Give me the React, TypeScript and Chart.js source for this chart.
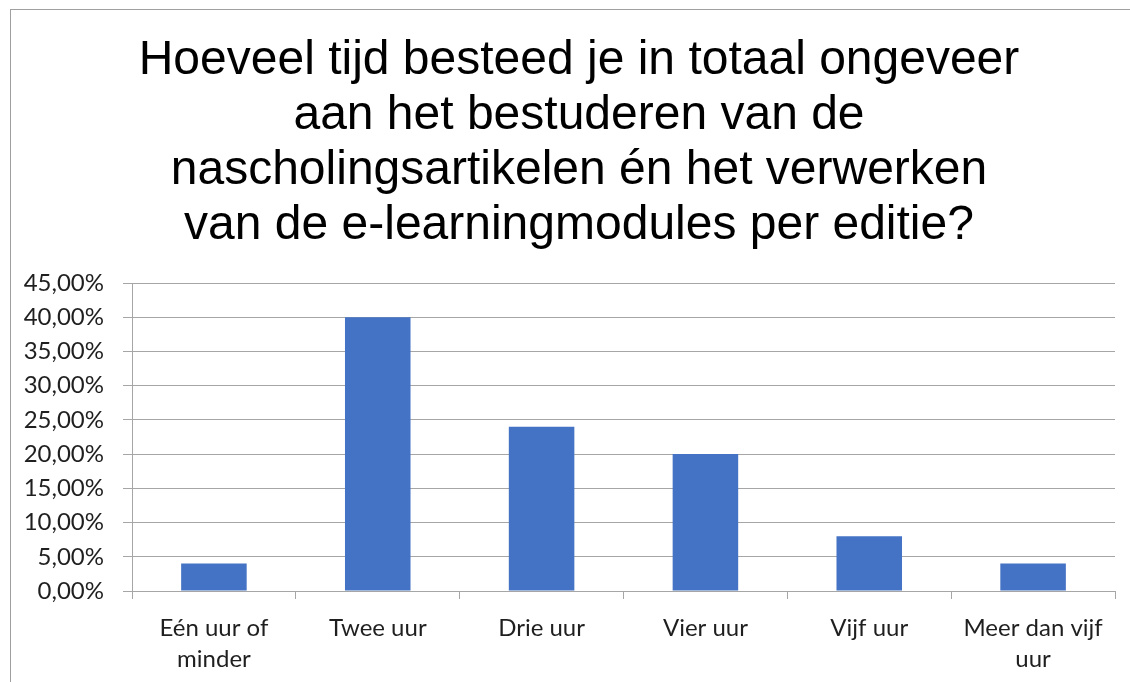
import React, { useEffect, useRef } from "react";
import { Chart, registerables } from "chart.js";

Chart.register(...registerables);

const titleLines = [
  "Hoeveel tijd besteed je in totaal ongeveer",
  "aan het bestuderen van de",
  "nascholingsartikelen én het verwerken",
  "van de e-learningmodules per editie?",
];

const categories: (string | string[])[] = [
  ["Eén uur of", "minder"],
  "Twee uur",
  "Drie uur",
  "Vier uur",
  "Vijf uur",
  ["Meer dan vijf", "uur"],
];

const percentages = [0.04, 0.4, 0.24, 0.2, 0.08, 0.04];

const yMin = 0;
const yMax = 0.45;
const yStep = 0.05;

const titleShift = {
  id: "titleShift",
  afterLayout(chart: any) {
    if (chart.titleBlock) {
      chart.titleBlock.left = 43;
      chart.titleBlock.right = 1115;
    }
  },
};

export default function App() {
  const canvasRef = useRef<HTMLCanvasElement | null>(null);

  useEffect(() => {
    if (!canvasRef.current) return;
    const chart = new Chart(canvasRef.current, {
      type: "bar",
      data: {
        labels: categories,
        datasets: [
          {
            data: percentages,
            backgroundColor: "#4472c4",
            borderWidth: 0,
            barPercentage: 1,
            categoryPercentage: 0.4,
          },
        ],
      },
      plugins: [titleShift],
      options: {
        responsive: false,
        animation: false,
        devicePixelRatio: 1,
        layout: { padding: { left: 12, right: 15, top: 0, bottom: 0 } },
        plugins: {
          legend: { display: false },
          tooltip: { enabled: false },
          title: {
            display: true,
            text: titleLines,
            color: "#000",
            font: { family: "'Liberation Sans', Arial, sans-serif", size: 48, weight: "normal", lineHeight: 55 / 48 },
            padding: { top: 33, bottom: 30 },
          },
        },
        scales: {
          x: {
            offset: true,
            grid: {
              display: true,
              drawOnChartArea: false,
              drawTicks: true,
              tickLength: 8,
              color: "#a6a6a6",
              offset: true,
            },
            border: { display: true, color: "#a6a6a6", width: 1 },
            ticks: {
              color: "#1f1f1f",
              font: { family: "Lato, sans-serif", size: 24, lineHeight: 31 / 24 },
              padding: 14,
              maxRotation: 0,
              autoSkip: false,
            },
            afterFit: (scale: any) => {
              scale.height = 91;
            },
          },
          y: {
            min: yMin,
            max: yMax,
            grid: {
              color: "#a6a6a6",
              tickLength: 9,
              drawTicks: true,
            },
            border: { display: true, color: "#a6a6a6", width: 1 },
            ticks: {
              stepSize: yStep,
              color: "#1f1f1f",
              font: { family: "Lato, sans-serif", size: 24 },
              padding: 19,
              callback: (v: any) => (Math.round(Number(v) * 10000) / 100).toFixed(2).replace(".", ",") + "%",
            },
            afterFit: (scale: any) => {
              scale.width = 120;
            },
          },
        },
      },
    });
    return () => chart.destroy();
  }, []);

  return (
    <div style={{ position: "fixed", left: 0, top: 0, width: 1130, height: 682, background: "#fff", overflow: "hidden" }}>
      <div
        style={{
          position: "absolute",
          left: 10,
          top: 9,
          width: 1130,
          height: 700,
          borderLeft: "1px solid #a0a0a0",
          borderTop: "1px solid #a0a0a0",
          boxSizing: "border-box",
        }}
      />
      <canvas ref={canvasRef} width={1130} height={682} style={{ position: "absolute", left: 0, top: 0 }} />
    </div>
  );
}
